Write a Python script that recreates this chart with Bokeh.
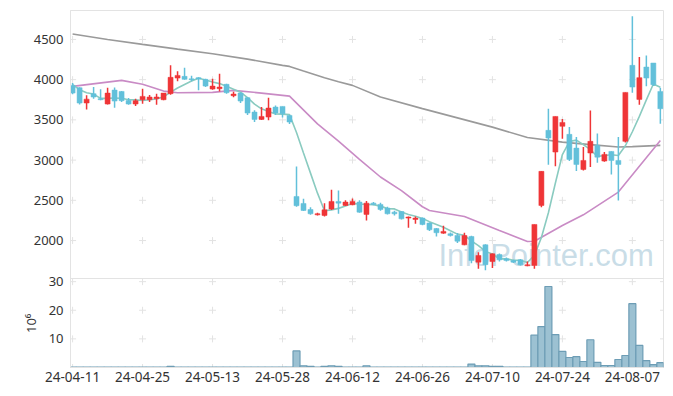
from bokeh.plotting import figure
from bokeh.models import ColumnDataSource, Label, FixedTicker, Range1d, Span, Title
from bokeh.embed import file_html
from bokeh.resources import INLINE

# ---------------- data ----------------
tick_labels = ["24-04-11", "24-04-25", "24-05-13", "24-05-28", "24-06-12",
               "24-06-26", "24-07-10", "24-07-24", "24-08-07"]

open_ = [3929, 3900, 3710, 3826, 3764, 3697, 3871, 3854, 3742, 3697,
         3751, 3751, 3764, 3751, 3826, 4020, 4041, 4010, 4025, 4004,
         3883, 3888, 3942, 3801, 3833, 3776, 3597, 3506, 3535, 3659,
         3668, 3556, 2548, 2461, 2386, 2320, 2312, 2391, 2486, 2436,
         2445, 2478, 2325, 2465, 2449, 2404, 2353, 2361, 2279, 2262,
         2279, 2217, 2150, 2092, 2084, 2063, 1947, 2050, 1731, 1947,
         1739, 1826, 1772, 1751, 1760, 1686, 1690, 2436, 3370, 3100,
         3420, 3320, 3149, 2884, 3088, 3183, 2988, 3108, 2996, 3233,
         4178, 3755, 4157, 4207, 3854]
high = [3960, 3905, 3805, 3908, 3880, 3900, 3904, 3860, 3771, 3764,
        3888, 3808, 3826, 3833, 4178, 4105, 4149, 4050, 4030, 4010,
        4012, 4075, 3950, 3850, 3840, 3780, 3620, 3659, 3776, 3680,
        3668, 3560, 2921, 2520, 2415, 2345, 2465, 2631, 2622, 2500,
        2523, 2500, 2490, 2480, 2470, 2420, 2370, 2365, 2300, 2300,
        2285, 2225, 2155, 2184, 2100, 2095, 2097, 2060, 1855, 1955,
        1840, 1840, 1790, 1760, 1770, 1740, 2200, 2860, 3639, 3543,
        3510, 3411, 3287, 3162, 3618, 3330, 3100, 3110, 3287, 3842,
        4787, 4281, 4302, 4207, 3900]
low = [3820, 3690, 3630, 3764, 3745, 3690, 3652, 3722, 3689, 3672,
       3701, 3722, 3689, 3745, 3813, 3980, 4000, 3980, 3867, 3908,
       3875, 3854, 3826, 3780, 3709, 3560, 3473, 3500, 3494, 3560,
       3530, 3450, 2420, 2366, 2320, 2310, 2300, 2380, 2333, 2430,
       2440, 2345, 2250, 2440, 2370, 2325, 2310, 2260, 2159, 2209,
       2190, 2120, 2050, 2085, 2050, 1968, 1940, 1718, 1648, 1630,
       1660, 1740, 1740, 1720, 1690, 1680, 1648, 2415, 2943, 2925,
       3266, 2990, 2863, 2870, 2913, 2967, 2980, 2822, 2498, 3220,
       3838, 3689, 3917, 3920, 3452]
close = [3833, 3709, 3758, 3784, 3751, 3833, 3734, 3739, 3697, 3739,
         3792, 3784, 3784, 3833, 4029, 4053, 4004, 4000, 4008, 3920,
         3920, 3908, 3838, 3821, 3734, 3585, 3506, 3543, 3647, 3585,
         3577, 3473, 2433, 2374, 2333, 2333, 2382, 2486, 2465, 2478,
         2486, 2353, 2465, 2449, 2386, 2333, 2333, 2270, 2292, 2279,
         2200, 2134, 2097, 2113, 2063, 1992, 2063, 1751, 1814, 1700,
         1835, 1760, 1751, 1731, 1698, 1698, 2200, 2860, 3274, 3543,
         3469, 3009, 2946, 2996, 3233, 3037, 3071, 2996, 2946, 3842,
         3908, 4025, 4020, 3938, 3639]
volume = [0.1, 0.1, 0.1, 0.1, 0.1, 0.1, 0.1, 0.1, 0.1, 0.1,
          0.1, 0.1, 0.1, 0.1, 0.4, 0.1, 0.1, 0.1, 0.1, 0.1,
          0.1, 0.1, 0.1, 0.1, 0.1, 0.1, 0.1, 0.1, 0.1, 0.1,
          0.1, 0.1, 5.8, 0.6, 0.4, 0.1, 0.4, 0.6, 0.4, 0.1,
          0.1, 0.1, 0.6, 0.1, 0.1, 0.1, 0.1, 0.1, 0.1, 0.1,
          0.1, 0.1, 0.1, 0.1, 0.1, 0.1, 0.1, 1.2, 0.6, 0.6,
          0.4, 0.4, 0.1, 0.1, 0.1, 0.1, 11.3, 14.3, 28.3, 11.5,
          5.6, 3.5, 3.8, 2.1, 9.7, 1.8, 0.7, 0.7, 2.8, 4.2,
          22.3, 7.7, 2.4, 1.0, 1.7]

# 5-day MA: first four values, rest from closes
ma5_head = [3938, 3876, 3838, 3821]
# 20-day MA (index, value)
ma20_idx = [0, 7, 10, 13, 15, 20, 23, 27, 31, 35, 38, 41, 44, 47, 50, 51,
            56, 61, 65, 66, 70, 73, 78, 84]
ma20_val = [3917, 3991, 3942, 3858, 3838, 3842, 3867, 3833, 3796, 3450,
            3236, 3010, 2790, 2620, 2420, 2374, 2299, 2125, 1988, 1992,
            2187, 2320, 2602, 3245]
# long MA (index, value)
malong_idx = [0, 5, 10, 15, 20, 25, 30, 31, 33, 36, 38, 40, 44, 50, 55,
              60, 65, 70, 74, 78, 80, 84]
malong_val = [4567, 4500, 4439, 4380, 4323, 4255, 4178, 4165, 4107, 4025,
              3975, 3929, 3785, 3640, 3525, 3410, 3282, 3224, 3192, 3162,
              3168, 3183]

price_ticks = [2000, 2500, 3000, 3500, 4000, 4500]
vol_ticks = [10, 20, 30]
vol_unit = "10\u2076"

# ---------------- layout constants ----------------
FONT = "Noto Sans"
GRID = "#e3e3e3"
RED = "#ef3537"
BLUE = "#62c0da"
PRICE_LO, PRICE_HI = 1528, 4860
VOL_HI = 31.1
H_PRICE, H_VOL = 268, 89          # pixel heights of the two panels
B_TOP, B_BOTTOM, B_LEFT, B_RIGHT = 10, 25, 70, 2
W = 665

# ---------------- derived ----------------
n = len(close)
xs = list(range(n))
ma5 = list(ma5_head) + [sum(close[i - 4:i + 1]) / 5 for i in range(4, n)]
colors = [RED if c >= o else BLUE for o, c in zip(open_, close)]
src = ColumnDataSource(dict(
    x=xs, top=[max(o, c) for o, c in zip(open_, close)],
    bottom=[min(o, c) for o, c in zip(open_, close)],
    high=high, low=low, color=colors, vol=volume))

per_px = (PRICE_HI - PRICE_LO) / H_PRICE
y_bottom = PRICE_LO - H_VOL * per_px
vol_end = VOL_HI * (H_PRICE + H_VOL) / H_VOL


def vol_to_y(v):
    return y_bottom + v * (PRICE_LO - y_bottom) / VOL_HI


x_ticks = list(range(0, n, 10))
x_start, x_end = -0.3, n - 1 + 0.45

p = figure(width=W, height=B_TOP + H_PRICE + H_VOL + B_BOTTOM,
           x_range=(x_start, x_end), y_range=(y_bottom, PRICE_HI),
           output_backend="svg", toolbar_location=None,
           min_border_left=B_LEFT, min_border_right=B_RIGHT,
           min_border_top=B_TOP, min_border_bottom=B_BOTTOM)
p.extra_y_ranges = {"vol": Range1d(0, vol_end)}
p.outline_line_color = GRID
p.xgrid.visible = False
p.ygrid.visible = False

# axes
yt = price_ticks + [vol_to_y(v) for v in vol_ticks]
p.yaxis.ticker = FixedTicker(ticks=yt)
p.yaxis.major_label_overrides = {vol_to_y(v): str(v) for v in vol_ticks}
p.xaxis.ticker = FixedTicker(ticks=x_ticks)
p.xaxis.major_label_overrides = {t: lab for t, lab in zip(x_ticks, tick_labels)}
for ax in (p.xaxis[0], p.yaxis[0]):
    ax.axis_line_color = GRID
    ax.major_tick_line_color = None
    ax.minor_tick_line_color = None
    ax.major_tick_out = 0
    ax.major_tick_in = 0
    ax.major_label_text_font = FONT
    ax.major_label_text_font_size = "13px"
    ax.major_label_text_color = "#333333"
p.yaxis.major_label_standoff = 7
p.xaxis.major_label_standoff = 4
p.xaxis.major_label_text_font_size = "13.5px"

# unit label of the volume panel (vertical, centred on the volume panel)
unit_title = Title(text=vol_unit, align="left", offset=(H_VOL / 2) - 10, standoff=-18,
                   text_font=FONT, text_font_size="13px", text_font_style="normal",
                   text_color="#333333")
p.add_layout(unit_title, "left")

# panel separator
p.add_layout(Span(location=PRICE_LO, dimension="width", line_color=GRID, line_width=1))

# grid crosses
gx = x_ticks + [x_end]
p.scatter([a for a in gx for b in price_ticks], [b for a in gx for b in price_ticks],
          marker="cross", size=7, line_color=GRID, line_width=1)
vg = [0] + vol_ticks
p.scatter([a for a in gx for b in vg], [b for a in gx for b in vg], y_range_name="vol",
          marker="cross", size=7, line_color=GRID, line_width=1)

# watermark (behind the candles)
p.add_layout(Label(x=(438 - 72) / 7.0, y=1675 + 11 * per_px, text="InfoPointer.com",
                   text_font="Liberation Sans", text_font_size="31px",
                   text_color="#c6dbe6", text_alpha=0.95,
                   text_baseline="alphabetic", level="underlay"))

# moving averages
p.line(malong_idx, malong_val, line_color="#9a9a9a", line_width=1.6)
p.line(ma20_idx, ma20_val, line_color="#c98bc5", line_width=1.6)
p.line(xs, ma5, line_color="#8acbc0", line_width=1.6)

# candles
p.segment(x0="x", y0="high", x1="x", y1="low", color="color", line_width=1.5, source=src)
p.vbar(x="x", top="top", bottom="bottom", width=0.72, fill_color="color",
       line_color="color", line_width=0.5, source=src)

# volume
p.vbar(x="x", top="vol", bottom=0, width=1.0, y_range_name="vol", fill_color="#9cc1d2",
       line_color="#6d9db5", line_width=1.2, source=src)

open("out.html", "w").write(file_html(p, INLINE))
